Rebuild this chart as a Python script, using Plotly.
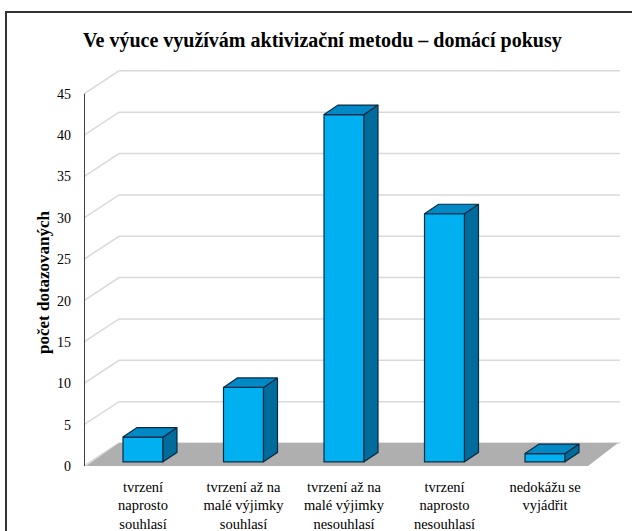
import plotly.graph_objects as go

# ---- data ----
categories = [
    "tvrzení<br>naprosto<br>souhlasí",
    "tvrzení až na<br>malé výjimky<br>souhlasí",
    "tvrzení až na<br>malé výjimky<br>nesouhlasí",
    "tvrzení<br>naprosto<br>nesouhlasí",
    "nedokážu se<br>vyjádřit",
]
values = [3, 9, 42, 30, 1]
y_ticks = [0, 5, 10, 15, 20, 25, 30, 35, 40, 45]
title_text = "Ve výuce využívám aktivizační metodu – domácí pokusy"
y_title = "počet dotazovaných"

# ---- style / geometry constants ----
W, H = 632, 531
L, R, T, B = 84, 620, 60, 470          # plot area in pixels
PX_X = 100.5                            # px per category
PX_Y = 8.27                             # px per unit
ZERO_PX = 466                           # pixel of y=0 on front
FIRST_PX = 143                          # pixel of first category centre
x_min = (L - FIRST_PX) / PX_X
x_max = (R - FIRST_PX) / PX_X
y_min = -(B - ZERO_PX) / PX_Y
y_max = (ZERO_PX - T) / PX_Y

wall_dx = 35 / PX_X
wall_dy = 23 / PX_Y
bar_w = 40 / PX_X
bar_dx = 14 / PX_X
bar_dy = 9.5 / PX_Y
bar_base = 0.5
floor_right = (588 - FIRST_PX) / PX_X

FRONT = "#00B0F0"
TOP = "#0089C4"
SIDE = "#006C9C"
EDGE = "#0B2B44"
GRID = "#D9D9D9"
FLOOR = "#AFAFAF"
FONT = "Liberation Serif, serif"


def poly(xs, ys, close=True):
    d = "M " + " L ".join(f"{x},{y}" for x, y in zip(xs, ys))
    return d + (" Z" if close else "")


shapes = []
# gridlines (side wall diagonal + back wall horizontal)
for v in y_ticks:
    shapes.append(dict(type="path", xref="x", yref="y", layer="below",
                       path=poly([x_min, x_min + wall_dx, x_max],
                                 [v, v + wall_dy, v + wall_dy], close=False),
                       line=dict(color=GRID, width=1.5)))
# floor
shapes.append(dict(type="path", xref="x", yref="y", layer="below",
                   path=poly([x_min + 0.02, floor_right, x_max - 0.02, x_min + wall_dx],
                             [0, 0, wall_dy, wall_dy]),
                   fillcolor=FLOOR, line=dict(width=0)))

fig = go.Figure()

# bar front faces
fig.add_trace(go.Bar(
    x=list(range(len(values))), y=values, base=bar_base, width=bar_w,
    marker=dict(color=FRONT, line=dict(color=EDGE, width=1.2)),
    showlegend=False, hoverinfo="y"))

# bar side and top faces
for i, v in enumerate(values):
    xl = i - bar_w / 2
    xr = i + bar_w / 2
    y0 = bar_base
    y1 = bar_base + v
    fig.add_trace(go.Scatter(
        x=[xr, xr + bar_dx, xr + bar_dx, xr, xr],
        y=[y0, y0 + bar_dy, y1 + bar_dy, y1, y0],
        mode="lines", fill="toself", fillcolor=SIDE,
        line=dict(color=EDGE, width=1.2),
        hoverinfo="skip", showlegend=False))
    fig.add_trace(go.Scatter(
        x=[xl, xr, xr + bar_dx, xl + bar_dx, xl],
        y=[y1, y1, y1 + bar_dy, y1 + bar_dy, y1],
        mode="lines", fill="toself", fillcolor=TOP,
        line=dict(color=EDGE, width=1.2),
        hoverinfo="skip", showlegend=False))

# y axis line
fig.add_trace(go.Scatter(
    x=[x_min, x_min], y=[y_ticks[0], y_ticks[-1]], mode="lines",
    line=dict(color="black", width=1.5), hoverinfo="skip", showlegend=False))

pw = R - L
ph = B - T
def px2paper_x(px):
    return (px - L) / pw
def px2paper_y(py):
    return (B - py) / ph

shapes.append(dict(type="rect", xref="paper", yref="paper",
                   x0=px2paper_x(6), x1=px2paper_x(640),
                   y0=px2paper_y(12), y1=px2paper_y(545),
                   line=dict(color="#333333", width=2),
                   fillcolor="rgba(0,0,0,0)"))

fig.update_layout(
    width=W, height=H,
    margin=dict(l=L, r=W - R, t=T, b=H - B, autoexpand=False),
    paper_bgcolor="white", plot_bgcolor="white",
    font=dict(family=FONT, color="black", size=13),
    title=dict(text="<b>" + title_text + "</b>", x=0.51, xanchor="center",
               y=1 - 40 / H, yanchor="middle",
               font=dict(family=FONT, size=20, color="black")),
    xaxis=dict(range=[x_min, x_max], tickmode="array", automargin=False,
               tickvals=list(range(len(categories))), ticktext=categories,
               showgrid=False, zeroline=False, showline=False, ticks="",
               ticklabelstandoff=6,
               tickfont=dict(family=FONT, size=14.5, color="black")),
    yaxis=dict(range=[y_min, y_max], tickmode="array", tickvals=y_ticks,
               automargin=False,
               showgrid=False, zeroline=False, showline=False, ticks="",
               ticklabelstandoff=12,
               tickfont=dict(family=FONT, size=14, color="black")),
    shapes=shapes,
    annotations=[dict(text="<b>" + y_title + "</b>", xref="paper", yref="paper",
                      x=px2paper_x(43), y=px2paper_y(282), textangle=-90,
                      showarrow=False, xanchor="center", yanchor="middle",
                      font=dict(family=FONT, size=17, color="black"))],
)

fig.write_html("out.html", config={"displayModeBar": False},
               post_script="document.body.style.margin='0';")
